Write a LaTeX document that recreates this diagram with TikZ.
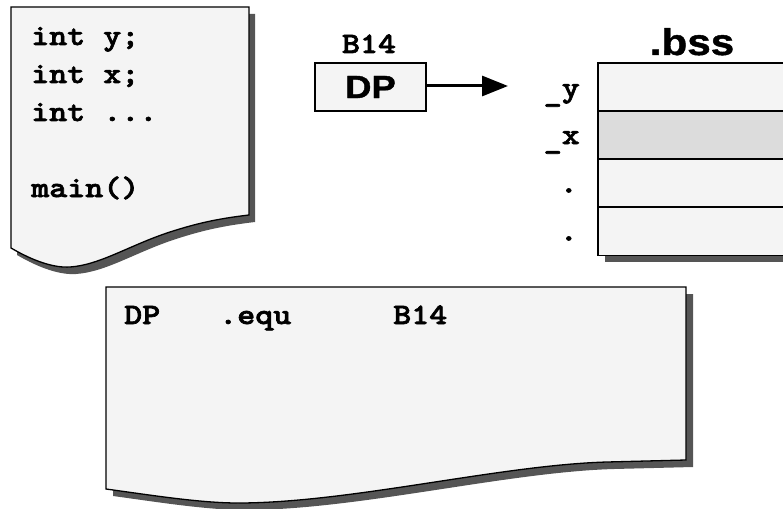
\documentclass[tikz,border=0pt]{standalone}
\usepackage{fontspec}
\usetikzlibrary{arrows.meta}

% Courier-like slab mono for code, wide bold sans for headings
\newfontfamily\codefont{lmmonolt10-bold.otf}[FakeStretch=1.16, FakeBold=2.2]
\newfontfamily\headfont{Liberation Sans}[FakeStretch=1.14, FakeBold=1.2]

\definecolor{paper}{HTML}{F4F4F4}
\definecolor{paperdark}{HTML}{DCDCDC}
\definecolor{dropshadow}{HTML}{555555}

% underscore set low, as in a Courier face
\newcommand\lowbar{\raisebox{-5pt}{\_}}

% outlines of the two source sheets
\def\sourcesheet{(11,7) -- (249,7) -- (249,215)
  .. controls (215,219) and (195,224) .. (170,232)
  .. controls (130,245) and (100,265) .. (70,267)
  .. controls (55,268) and (35,262) .. (11,248) -- cycle}
\def\asmsheet{(106,287) -- (686,287) -- (686,460) -- (607,462)
  .. controls (500,465) and (350,503) .. (238,503)
  .. controls (200,503) and (150,495) .. (106,489) -- cycle}

\tikzset{
  sheet/.style={fill=paper, draw=black, line width=1.3pt},
  sheetshadow/.style={fill=dropshadow},
  code/.style={font=\codefont\fontsize{29.6}{34}\selectfont, inner sep=0pt},
  codeline/.style={code, anchor=base west},
  symlabel/.style={code, anchor=base east},
  bsslabel/.style={font=\headfont\bfseries\fontsize{37}{40}\selectfont, inner sep=0pt, anchor=base},
  register/.style={fill=paper, draw=black, line width=1.3pt, minimum width=111pt,
                   minimum height=48pt, inner sep=0pt,
                   font=\headfont\bfseries\fontsize{32}{36}\selectfont},
  cell/.style={draw=black, line width=1.8pt, minimum width=210pt, minimum height=48pt,
               inner sep=0pt, anchor=north west},
  pointer/.style={line width=3pt, -{Triangle[length=26pt,width=20pt]}},
}

\begin{document}
\begin{tikzpicture}[x=1pt,y=-1pt]
  \useasboundingbox (0,0) rectangle (783,508);

  % C source sheet
  \fill[sheetshadow, shift={(6,7)}] \sourcesheet;
  \draw[sheet] \sourcesheet;
  \node[codeline] (l1) at (31,45)  {int y;};
  \node[codeline] (l2) at (31,83)  {int x;};
  \node[codeline] (l3) at (31,121) {int ...};
  \node[codeline] (l4) at (31,197) {main()};

  % data page pointer register
  \node[code, anchor=base] (b14) at (369,53) {B14};
  \node[register] (dp) at (370.5,87) {DP};
  \coordinate (tip) at (508,86);
  \draw[pointer] (dp.east |- tip) -- (tip);

  % .bss section
  \fill[dropshadow] (605,255) rectangle (800,262);
  \node[cell, fill=paper]     (r1) at (597,62)  {};
  \node[cell, fill=paperdark] (r2) at (597,110) {};
  \node[cell, fill=paper]     (r3) at (597,158) {};
  \node[cell, fill=paper]     (r4) at (597,206.5) {};
  \node[bsslabel] (bss) at (692,55) {.bss};
  \node[symlabel] (sy) at (580,97)  {\lowbar y};
  \node[symlabel] (sx) at (580,144) {\lowbar x};
  \node[symlabel] (d1) at (578,192.5) {.};
  \node[symlabel] (d2) at (578,240.5) {.};

  % assembly sheet
  \fill[sheetshadow, shift={(7,7)}] \asmsheet;
  \draw[sheet] \asmsheet;
  \node[codeline] (a1) at (124,324) {DP};
  \node[codeline] (a2) at (219,324) {.equ};
  \node[codeline] (a3) at (393,324) {B14};
\end{tikzpicture}
\end{document}
